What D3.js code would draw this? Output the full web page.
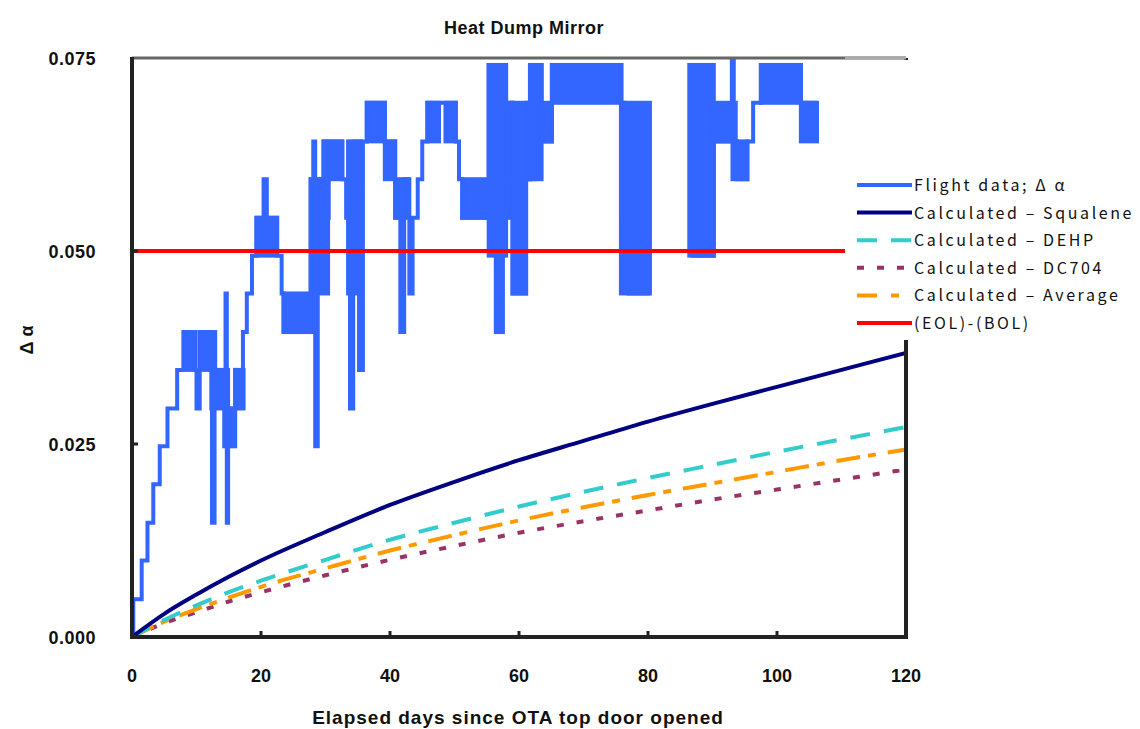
<!DOCTYPE html>
<html>
<head>
<meta charset="utf-8">
<script src="https://cdn.jsdelivr.net/npm/d3@7"></script>
<style>
  body { margin: 0; background: #fff; }
  svg { display: block; }
  .lbl { font-family: "Liberation Sans", Arial, sans-serif; font-weight: bold; fill: #111; }
  .leg { font-family: "Noto Sans CJK JP", "DejaVu Sans", sans-serif; font-size: 16px; letter-spacing: 2.6px; fill: #111; }
</style>
</head>
<body>
<div id="chart"></div>
<script>
// elapsed days where the calculated curves were read
var days = [0, 5, 10, 15, 20, 30, 40, 50, 60, 70, 80, 90, 100, 110, 120];
var squalene = [0, 0.0030, 0.0055, 0.0078, 0.0099, 0.0136, 0.0171, 0.0201, 0.0229, 0.0254, 0.0279, 0.0302, 0.0324, 0.0346, 0.0368];
var dehp     = [0, 0.0022, 0.0041, 0.0058, 0.0073, 0.0100, 0.0126, 0.0148, 0.0169, 0.0188, 0.0206, 0.0223, 0.0240, 0.0256, 0.0272];
var average  = [0, 0.0020, 0.0036, 0.0051, 0.0065, 0.0089, 0.0112, 0.0132, 0.0151, 0.0168, 0.0184, 0.0199, 0.0214, 0.0229, 0.0243];
var dc704    = [0, 0.0018, 0.0032, 0.0046, 0.0058, 0.0080, 0.0100, 0.0118, 0.0135, 0.0150, 0.0164, 0.0178, 0.0191, 0.0204, 0.0217];
var eolBol = 0.050;

// flight data, step trace [day, delta alpha]; null = off the top of the chart
var flightTrace = [
  [0, 0], [0.2, 0.0049], [1.5, 0.0099], [2.4, 0.0148], [3.3, 0.0198], [4.3, 0.0247],
  [5.5, 0.0296], [7.0, 0.0346], [8.0, 0.0395], [9.8, 0.0346], [10.0, 0.0296], [10.5, 0.0395],
  [12.2, 0.0346], [12.4, 0.0148], [12.8, 0.0346], [14.5, 0.0445], [14.7, 0.0148], [14.9, 0.0296],
  [16.0, 0.0346], [17.2, 0.0395], [17.8, 0.0445], [18.6, 0.0494], [19.3, 0.0543], [20.4, 0.0593],
  [20.9, 0.0543], [22.5, 0.0494], [23.2, 0.0445], [23.5, 0.0395], [27.7, 0.0593], [28.1, 0.0642],
  [28.4, 0.0247], [28.8, 0.0593], [29.7, 0.0642], [30.0, 0.0543], [30.5, 0.0642], [32.6, 0.0593],
  [33.2, 0.0543], [33.8, 0.0296], [34.3, 0.0642], [35.2, 0.0346], [35.8, 0.0642], [36.4, 0.0692],
  [39.2, 0.0642], [40.8, 0.0543], [41.6, 0.0395], [42.2, 0.0593], [43.0, 0.0445], [43.5, 0.0543],
  [44.3, 0.0593], [45.0, 0.0642], [45.8, 0.0692], [50.2, 0.0642], [50.7, 0.0593], [51.2, 0.0543],
  [55.3, 0.0741], [56.5, 0.0395], [57.4, 0.0741], [58.0, 0.0692], [59.0, 0.0445], [61.1, 0.0593],
  [61.7, 0.0741], [63.5, 0.0642], [65.1, 0.0741], [75.8, 0.0692], [76.3, 0.0543], [77.0, 0.0445],
  [80.3, 0.0445], [80.4, null], [86.4, 0.0741], [86.9, 0.0494], [90.2, 0.0642], [93.0, 0.0790], [93.3, 0.0642],
  [93.8, 0.0593], [95.4, 0.0642], [96.3, 0.0692], [97.5, 0.0741], [103.7, 0.0692], [106.2, 0.0692]
];
// stretches where the flight data flickers between two levels [from day, to day, low, high]
var flightBands = [
  [8.0, 9.8, 0.0346, 0.0395], [10.5, 12.9, 0.0346, 0.0395], [12.3, 14.9, 0.0296, 0.0346],
  [14.3, 16.0, 0.0247, 0.0296], [16.0, 17.3, 0.0296, 0.0346], [19.3, 22.5, 0.0494, 0.0543],
  [23.5, 28.3, 0.0395, 0.0445], [27.7, 30.4, 0.0445, 0.0593], [29.7, 32.6, 0.0593, 0.0642],
  [33.5, 35.5, 0.0445, 0.0642], [36.4, 39.2, 0.0642, 0.0692], [39.2, 40.8, 0.0593, 0.0642],
  [40.8, 42.9, 0.0543, 0.0593], [45.8, 47.6, 0.0642, 0.0692], [48.6, 50.2, 0.0642, 0.0692],
  [51.2, 55.3, 0.0543, 0.0593], [55.3, 58.0, 0.0494, 0.0741], [56.4, 57.5, 0.0395, 0.0494],
  [58.0, 59.0, 0.0543, 0.0692],
  [59.0, 61.1, 0.0445, 0.0692], [61.1, 62.4, 0.0593, 0.0692], [61.7, 63.5, 0.0593, 0.0741],
  [63.5, 65.1, 0.0642, 0.0692], [65.1, 75.9, 0.0692, 0.0741], [75.8, 80.3, 0.0445, 0.0692],
  [86.4, 90.2, 0.0494, 0.0741], [90.2, 93.6, 0.0642, 0.0692], [93.1, 95.4, 0.0593, 0.0642],
  [97.5, 103.7, 0.0692, 0.0741], [103.7, 106.2, 0.0642, 0.0692]
];

var xTicks = [0, 20, 40, 60, 80, 100, 120];
var yTicks = [0, 0.025, 0.050, 0.075];
var legendNames = ["Flight data; Δ α", "Calculated – Squalene", "Calculated – DEHP",
                   "Calculated – DC704", "Calculated – Average", "(EOL)-(BOL)"];

var W = 1140, H = 729;
var pLeft = 132, pRight = 906, pTop = 58, pBottom = 637;

var x = d3.scaleLinear().domain([0, 120]).range([pLeft, pRight]);
var y = d3.scaleLinear().domain([0, 0.075]).range([pBottom, pTop]);

var svg = d3.select("#chart").append("svg").attr("width", W).attr("height", H);

svg.append("defs").append("clipPath").attr("id", "plot")
  .append("rect").attr("x", pLeft).attr("y", pTop).attr("width", pRight - pLeft).attr("height", pBottom - pTop);

var styles = [
  { color: "#3366ff", dash: null },
  { color: "#000080", dash: null },
  { color: "#33cccc", dash: "20 14" },
  { color: "#993366", dash: "7 13" },
  { color: "#ff9900", dash: "24 8 8 12" },
  { color: "#ff0000", dash: null }
];

var g = svg.append("g").attr("clip-path", "url(#plot)");

// flight data
g.selectAll("rect.band").data(flightBands).enter().append("rect")
  .attr("class", "band")
  .attr("x", function(d) { return x(d[0]) - 2; })
  .attr("width", function(d) { return x(d[1]) - x(d[0]) + 4; })
  .attr("y", function(d) { return y(d[3]) - 2; })
  .attr("height", function(d) { return y(d[2]) - y(d[3]) + 4; })
  .attr("fill", styles[0].color);

var stepLine = d3.line()
  .defined(function(d) { return d[1] != null; })
  .x(function(d) { return x(d[0]); })
  .y(function(d) { return y(d[1]); })
  .curve(d3.curveStepAfter);

g.append("path").datum(flightTrace)
  .attr("d", stepLine)
  .attr("fill", "none").attr("stroke", styles[0].color).attr("stroke-width", 4);

// calculated curves
var curve = d3.line()
  .x(function(d, i) { return x(days[i]); })
  .y(function(d) { return y(d); })
  .curve(d3.curveMonotoneX);

[[dc704, 3], [average, 4], [dehp, 2], [squalene, 1]].forEach(function(s) {
  g.append("path").datum(s[0])
    .attr("d", curve)
    .attr("fill", "none")
    .attr("stroke", styles[s[1]].color)
    .attr("stroke-width", 4)
    .attr("stroke-dasharray", styles[s[1]].dash);
});

// (EOL)-(BOL)
g.append("line")
  .attr("x1", x(0)).attr("x2", x(120))
  .attr("y1", y(eolBol)).attr("y2", y(eolBol))
  .attr("stroke", styles[5].color).attr("stroke-width", 4);

// frame
svg.append("line").attr("x1", pLeft).attr("x2", pRight).attr("y1", pTop).attr("y2", pTop)
  .attr("stroke", "#666").attr("stroke-width", 3);
svg.append("line").attr("x1", pLeft).attr("x2", pLeft).attr("y1", pTop - 1).attr("y2", pBottom + 2)
  .attr("stroke", "#222").attr("stroke-width", 4);
svg.append("line").attr("x1", pLeft - 2).attr("x2", pRight + 2).attr("y1", pBottom).attr("y2", pBottom)
  .attr("stroke", "#222").attr("stroke-width", 4);
svg.append("line").attr("x1", pRight).attr("x2", pRight).attr("y1", pTop).attr("y2", pBottom)
  .attr("stroke", "#222").attr("stroke-width", 4);

// inner ticks
svg.selectAll("line.xt").data(xTicks.slice(1, -1)).enter().append("line")
  .attr("x1", function(d) { return x(d); }).attr("x2", function(d) { return x(d); })
  .attr("y1", pBottom).attr("y2", pBottom - 6)
  .attr("stroke", "#222").attr("stroke-width", 3);
svg.selectAll("line.yt").data(yTicks.slice(1, -1)).enter().append("line")
  .attr("x1", pLeft).attr("x2", pLeft + 6)
  .attr("y1", function(d) { return y(d); }).attr("y2", function(d) { return y(d); })
  .attr("stroke", "#222").attr("stroke-width", 3);

// tick labels
svg.selectAll("text.xl").data(xTicks).enter().append("text")
  .attr("class", "lbl").attr("font-size", 18)
  .attr("x", function(d) { return x(d); }).attr("y", 682)
  .attr("text-anchor", "middle")
  .text(function(d) { return d; });
svg.selectAll("text.yl").data(yTicks).enter().append("text")
  .attr("class", "lbl").attr("font-size", 18).attr("letter-spacing", 0.5)
  .attr("x", 96).attr("y", function(d) { return y(d) + 7; })
  .attr("text-anchor", "end")
  .text(function(d) { return d3.format(".3f")(d); });

// titles
svg.append("text").attr("class", "lbl").attr("font-size", 18).attr("letter-spacing", 0.5)
  .attr("x", 524).attr("y", 34).attr("text-anchor", "middle").text("Heat Dump Mirror");
svg.append("text").attr("class", "lbl").attr("font-size", 19).attr("letter-spacing", 1)
  .attr("x", 518).attr("y", 724).attr("text-anchor", "middle")
  .text("Elapsed days since OTA top door opened");
svg.append("text").attr("class", "lbl").attr("font-size", 18)
  .attr("transform", "translate(33,340) rotate(-90)")
  .attr("text-anchor", "middle").text("Δ α");

// legend
var lg = svg.append("g");
lg.append("rect").attr("x", 845).attr("y", pTop + 2).attr("width", W - 845).attr("height", 340 - pTop - 2)
  .attr("fill", "#fff");
svg.append("line").attr("x1", 845).attr("x2", pRight).attr("y1", pTop).attr("y2", pTop)
  .attr("stroke", "#aaa").attr("stroke-width", 3);

var rows = lg.selectAll("g.row").data(legendNames).enter().append("g")
  .attr("transform", function(d, i) { return "translate(0," + (185 + i * 27.6) + ")"; });
rows.append("line")
  .attr("x1", 857).attr("x2", 912).attr("y1", 0).attr("y2", 0)
  .attr("stroke", function(d, i) { return styles[i].color; })
  .attr("stroke-width", 4)
  .attr("stroke-dasharray", function(d, i) { return i == 4 ? "20 14 8 20" : styles[i].dash; });
rows.append("text").attr("class", "leg")
  .attr("x", 914).attr("y", 6)
  .text(function(d) { return d; });
</script>
</body>
</html>
